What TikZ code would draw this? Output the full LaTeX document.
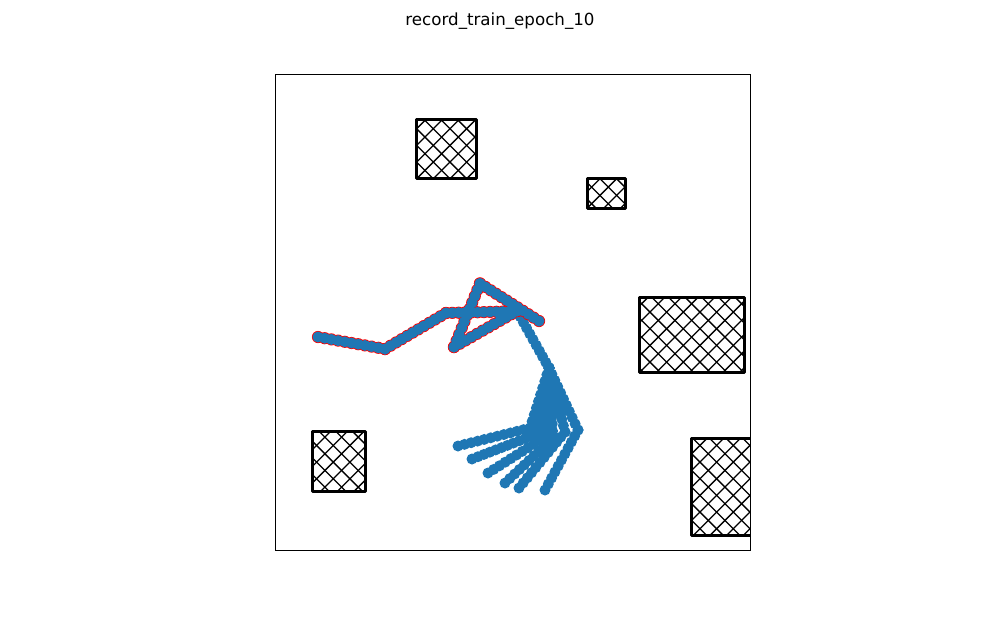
\documentclass[tikz,border=0pt]{standalone}
\usepackage{fontspec}
\setmainfont{DejaVu Sans}
\usetikzlibrary{calc}
\definecolor{traj}{RGB}{31,119,180}
\definecolor{rim}{RGB}{255,0,0}

\begin{document}
\begin{tikzpicture}[x=1pt,y=-1pt,
    hatch/.style={black,line width=1.3pt},
    obstacle/.style={black,line width=3pt,line join=round},
    spine/.style={black,line width=0.9pt}]
  \useasboundingbox[fill=white] (0,0) rectangle (1000,618);

  % title
  \node[anchor=base,font=\fontsize{16.67}{20}\selectfont] (title) at (500,26)
    {record\_train\_epoch\_10};

  % obstacles (x hatch)
  \begin{scope}
    \clip (275,74) rectangle (750,550);
    \foreach \xa/\ya/\xb/\yb in {416/119/476/178, 587/178/625/208,
        639/297/744/372, 312/431/365/491, 691/438/751/535}{
      \begin{scope}
        \clip (\xa,\ya) rectangle (\xb,\yb);
        \foreach \k in {0,...,97}
          \draw[hatch] ({12+16.667*\k},0) -- ++(-618,618);
        \foreach \k in {-38,...,60}
          \draw[hatch] ({4.5+16.667*\k},0) -- ++(618,618);
      \end{scope}
      \draw[obstacle] (\xa,\ya) rectangle (\xb,\yb);
    }
  \end{scope}

  % trajectory points
  \coordinate (p0) at (318,337);
  \coordinate (p1) at (385,349);
  \coordinate (p2) at (446,313);
  \coordinate (p3) at (509,311.5);
  \coordinate (p3b) at (517,311);
  \coordinate (p4) at (454,347);
  \coordinate (p5) at (480,283.5);
  \coordinate (p6) at (539,321);
  \coordinate (q0) at (517,311);
  \coordinate (q1) at (549,368);
  \coordinate (e1) at (530,428);
  \coordinate (e2) at (537,434);
  \coordinate (e3) at (545,437);
  \coordinate (e4) at (553,438);
  \coordinate (e5) at (565,432);
  \coordinate (e6) at (578,430);
  \coordinate (t1) at (458,446);
  \coordinate (t2) at (472,459);
  \coordinate (t3) at (488,473);
  \coordinate (t4) at (505,483);
  \coordinate (t5) at (519,488);
  \coordinate (t6) at (545,490);

  % fan, plain markers
  \foreach \a/\b/\n in {q0/q1/10, q1/e1/9, q1/e2/10, q1/e3/10, q1/e4/10,
      q1/e5/10, q1/e6/10, e1/t1/11, e2/t2/11, e3/t3/10, e4/t4/10,
      e5/t5/11, e6/t6/10}
    \foreach \i in {0,...,\n}
      \fill[traj] ($(\a)!{\i/\n}!(\b)$) circle[radius=5.5pt];

  % recorded path, red rim
  \foreach \a/\b/\n in {p0/p1/10, p1/p2/11, p2/p3/10, p3/p3b/1, p3b/p4/11,
      p4/p5/10, p5/p6/11}
    \foreach \i in {0,...,\n}
      \fill[rim] ($(\a)!{\i/\n}!(\b)$) circle[radius=6.1pt];
  \foreach \a/\b/\n in {p0/p1/10, p1/p2/11, p2/p3/10, p3/p3b/1, p3b/p4/11,
      p4/p5/10, p5/p6/11}
    \foreach \i in {0,...,\n}
      \fill[traj] ($(\a)!{\i/\n}!(\b)$) circle[radius=5.5pt];

  % axes frame
  \draw[spine] (275,74) rectangle (750,550);
\end{tikzpicture}
\end{document}
